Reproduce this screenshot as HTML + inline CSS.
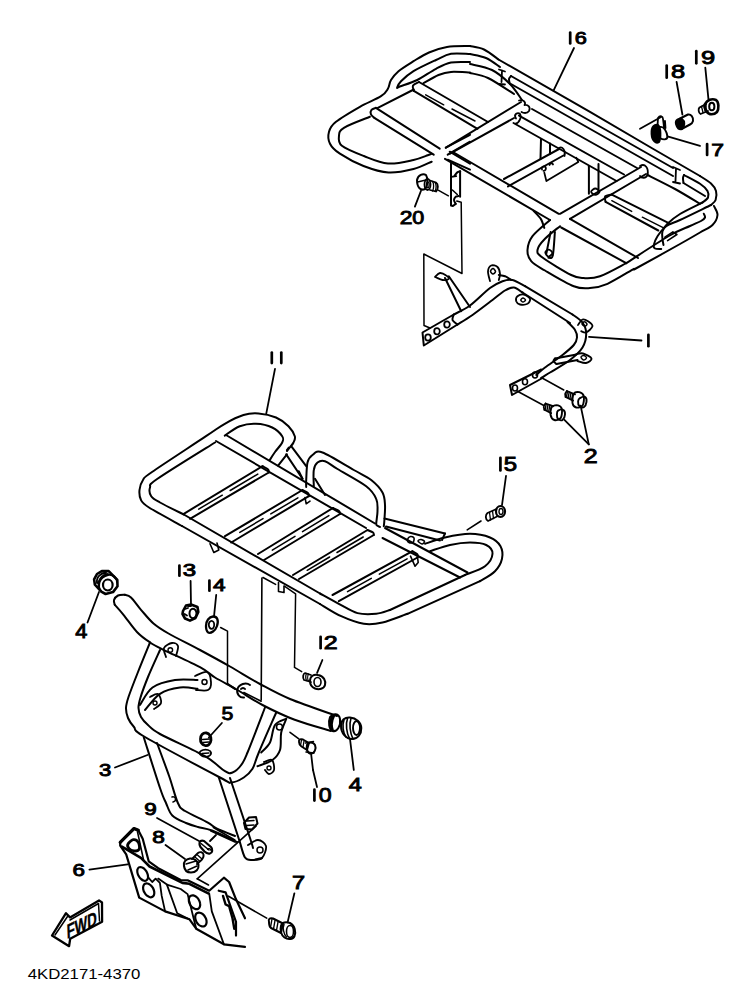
<!DOCTYPE html>
<html><head><meta charset="utf-8"><style>
html,body{margin:0;padding:0;background:#fff;}
body{width:752px;height:995px;overflow:hidden;position:relative;}
svg{position:absolute;left:0;top:0;}
.t{font-family:"Liberation Sans",sans-serif;fill:#000;stroke:#000;stroke-width:0.9px;}
.m{font-family:"Liberation Sans",sans-serif;font-size:13.8px;fill:#000;}
</style></head><body>
<svg width="752" height="995" viewBox="0 0 752 995">
<g fill="none" stroke="#000" stroke-width="2" stroke-linecap="round" stroke-linejoin="round">
<path d="M470 46 C466.2 46.2 453.8 45.9 447 47 C440.2 48.1 434.6 50.1 429 52.5 C423.4 54.9 418.6 58.1 413.5 61.2 C408.4 64.4 402.2 68.1 398.5 71.2 C394.8 74.4 392.8 77.1 391 80 C389.2 82.9 389.6 86 387.9 88.8 C386.2 91.5 385.7 93.2 381 96.2 C376.3 99.3 367.4 102.6 359.9 106.8 C352.4 111.1 341.1 117.6 336 121.8 C330.8 125.9 330 128.1 329 131.8 C328 135.4 328.1 140.1 330 143.7 C331.8 147.4 334.4 150 339.9 153.7 C345.5 157.4 355.4 162.9 363.5 166 C371.6 169.1 380.2 172 388.5 172.5 C396.8 173 406.3 170.8 413.5 169 C420.7 167.2 428.7 162.9 431.7 161.7"/>
<path d="M447.7 159.7 L470 169.7"/>
<path d="M470 54 C466.8 54 456.7 52.8 451 53.8 C445.3 54.8 442.2 57.1 436 60 C429.8 62.9 419.3 67.7 413.5 71.2 C407.7 74.8 403.7 78.5 401 81.2 C398.3 84 397.5 86.6 397.2 87.5 C397 88.4 396.4 87.8 399.8 86.5 C403.1 85.2 411.2 83 417.2 80 C423.3 77 430.4 71.7 436 68.8 C441.6 65.8 445.3 63.6 451 62.5 C456.7 61.4 466.8 62.1 470 62"/>
<path d="M470 72.5 C466.8 72.4 456.2 71.5 451 71.9 C445.8 72.3 443.1 73.1 438.5 75 C433.9 76.9 426 81.8 423.5 83.1"/>
<path d="M413.8 89.5 L377.8 107.8"/>
<path d="M369.9 116.8 C365.5 118.6 349.1 124.6 343.9 127.8 C338.8 130.9 339.3 132.8 339 135.8 C338.6 138.7 337.8 142.4 341.9 145.7 C346.1 149.1 356.2 153 363.9 156 C371.6 159 379.7 162.8 388 163.5 C396.3 164.2 406.9 161.4 413.5 160 C420.1 158.6 424.7 156.4 427.7 155.3 C430.7 154.2 431 154 431.7 153.7"/>
<path d="M375.9 107.8 L439.7 148.7"/>
<path d="M374.3 117.8 L433.7 154.7"/>
<path d="M375.9 107.8 C375.1 108.2 372.3 108.8 371.5 109.8 C370.6 110.9 370.4 112.9 370.9 114.2 C371.3 115.5 373.7 117.2 374.3 117.8"/>
<path d="M419 82 L488 122"/>
<path d="M413.8 90.9 L477.5 128.8"/>
<path d="M419 82 C418 82.6 413.9 84 413 85.5 C412.1 87 413.7 90 413.8 90.9"/>
<path d="M425.7 94.9 L443.7 104.8" stroke-width="1.5"/>
<path d="M452 109 L475 121" stroke-width="1.5"/>
<path d="M445.7 147.7 L470 134.8"/>
<path d="M447.7 154.7 L470 141.7"/>
<path d="M449.7 151.7 L470 163.7"/>
<path d="M470 46 C472.3 46.6 479.2 47.2 484 49.5 C488.8 51.8 496.1 57.8 498.5 59.5"/>
<path d="M498.5 59.5 L590 111.9 L652.5 148.5 L700 176"/>
<path d="M700 176 C701.8 177.2 708.3 181 711 183.5 C713.7 186 715.2 188.2 716 191 C716.8 193.8 716.4 197.7 715.6 200 C714.8 202.3 711.8 204.2 711 205"/>
<path d="M711 205 C705.8 207.5 687.5 216.5 680 220 C672.5 223.5 670 223.5 666.2 226.2 C662.5 229 659.6 233.1 657.5 236.2 C655.4 239.4 654.2 243 653.8 245 C653.3 247 653.8 247.8 655 248.5 C656.2 249.2 660.2 248.9 661.2 249"/>
<path d="M470 54 C472.7 54.7 481 55.8 486 58 C491 60.2 497.7 65.5 500 67"/>
<path d="M499 69.5 L505 71.5 M502 70.5 L501.5 82 M499 84 L505 84.5" stroke-width="1.8"/>
<path d="M510 84 C509.8 83.2 508.8 80.3 509 79 C509.2 77.7 510.7 76.5 511 76"/>
<path d="M511 76 L673 168"/>
<path d="M511 84 L673 176"/>
<path d="M673 167 L680 170 M676 168.5 L675.5 181 M673 182 L680 183.5" stroke-width="1.8"/>
<path d="M683.5 183 C683.4 182.2 682.9 179.3 683 178 C683.1 176.7 683.8 175.5 684 175"/>
<path d="M684 175 C686.7 176.5 696.1 181.1 700 183.8 C703.9 186.4 706.2 188.7 707.5 191 C708.8 193.3 708.8 195.6 708 197.5 C707.2 199.4 703.4 201.7 702.5 202.5"/>
<path d="M702.5 202.5 C698.8 204.4 685.8 210.5 680 214 C674.2 217.5 670.4 220.9 667.5 223.8 C664.6 226.6 663.3 228.7 662.5 231.2 C661.7 233.8 662.3 236.7 662.5 239 C662.7 241.3 663.3 244 663.5 245"/>
<path d="M683.5 183 L705 196"/>
<path d="M470 64 C473.7 65 485.3 66.7 492 70 C498.7 73.3 505 79 510 84 C515 89 520 97.3 522 100"/>
<path d="M470 73 C473 73.8 480.7 74.5 488 78 C495.3 81.5 509.7 91.3 514 94"/>
<path d="M446 147.7 L521 102"/>
<path d="M450 153.7 L514 118"/>
<path d="M519 100.5 C524 99 526 103 524.5 105 C528 104.5 531 107 529 111 C527 114 523 113 521.5 112" stroke-width="1.8"/>
<path d="M532 109 L637 168"/>
<path d="M647.5 175 C652.1 177.3 666.2 184.2 675 189 C683.8 193.8 695.8 201.3 700 203.8"/>
<path d="M640 166 C645 163 649 168 647.5 175 C646 179 641 178 640 176" stroke-width="1.8"/>
<path d="M516 118.5 C513 114 518 112 520 114 C522 117 519 123 516 123.5" stroke-width="1.8"/>
<path d="M519 115.6 L624 174.5"/>
<path d="M513.5 123 L616.5 181"/>
<path d="M504 179 L559 149"/>
<path d="M508 186.4 L563.4 155.5"/>
<path d="M559 148 C562 146 566 150 564.5 156" stroke-width="1.8"/>
<path d="M453.8 152.5 L558.8 213.8"/>
<path d="M445 158.8 L550 220"/>
<path d="M550 220 C547.1 222.7 536.2 231.2 532.5 236.2 C528.8 241.2 527.7 245.8 527.5 250 C527.3 254.2 528.3 257.8 531.2 261.2 C534.2 264.7 537.9 266.3 545 270.5 C552.1 274.7 566.2 283.3 573.8 286.2 C581.2 289.2 584.4 288.5 590 288.1 C595.6 287.7 600.2 287 607.5 283.8 C614.8 280.5 629.6 271.2 634 268.8"/>
<path d="M634 269.5 C641.7 265.2 669 250.2 680 244 C691 237.8 694.6 235.7 700 232.5 C705.4 229.3 709.6 227.9 712.5 225 C715.4 222.1 717.2 218.2 717.5 215 C717.8 211.8 714.6 207.5 714 206"/>
<path d="M560 226.2 C557.5 228.3 548.8 234.8 545 238.8 C541.2 242.7 537.9 246.9 537.5 250 C537.1 253.1 536.9 253.3 542.5 257.5 C548.1 261.7 564.4 271.6 571.2 275 C578.1 278.4 579 277.9 583.8 278.1 C588.5 278.3 592.9 278.8 600 276.2 C607.1 273.8 621.9 265.3 626.2 263.1"/>
<path d="M626.2 263.1 C633.3 258.6 658.1 242.2 668.8 236 C679.4 229.8 684.6 228.5 690 226 C695.4 223.5 698.5 222.4 701 221 C703.5 219.6 704.5 218.7 705 217.5 C705.5 216.3 704 214.4 703.8 213.8"/>
<path d="M570 218.8 L638 258"/>
<path d="M561.2 227.5 L626.2 263.1"/>
<path d="M560 213.8 L641 167"/>
<path d="M570 218.8 L646 174"/>
<path d="M611.8 194.6 L670.3 223.9"/>
<path d="M605.6 201.8 L658.3 230.5"/>
<path d="M605.6 201.8 C605.5 200.9 604.1 197.7 605.1 196.5 C606.1 195.3 610.6 194.9 611.8 194.6"/>
<path d="M611.8 200.7 L631.7 211.4" stroke-width="1.4"/>
<path d="M642.3 217.2 L663.6 227.9" stroke-width="1.4"/>
<path d="M664.9 237.2 L672.9 231.9 L676.9 234.5 L667.6 240.6" stroke-width="1.6"/>
<path d="M451 163.5 L451 205.5 L452.9 206 L455.7 203.9" stroke-width="2"/>
<path d="M455.7 203.9 C455.4 203.2 454 201.2 454 200 C454 198.8 455 197.3 455.7 196.7 C456.4 196 457.9 196.2 458.4 196.1" stroke-width="2"/>
<path d="M460.1 171.3 L460.1 196.7" stroke-width="2"/>
<path d="M454.6 175.7 C455.1 175.1 456.4 173.1 457.3 172.4 C458.2 171.7 459.6 171.5 460.1 171.3" stroke-width="2"/>
<path d="M451.3 176.8 L456.2 176.2" stroke-width="1.8"/>
<path d="M452.4 190 L457.3 194.5" stroke-width="1.6"/>
<path d="M541 139 L540.5 159"/>
<path d="M550 143.5 L550 154"/>
<path d="M542 169.5 C541 167 543.5 165.5 545.5 167 C546.5 168.5 545.5 171 543.5 170.8 M549.5 165 C550 163 552.5 162.5 553 164.5" stroke-width="1.8"/>
<path d="M544.3 172.6 L546.4 181.1 L578.3 161.9 L576.2 157.7" stroke-width="1.8"/>
<path d="M588.9 166.2 L588.9 193.8"/>
<path d="M598.5 164 L598.5 191.7"/>
<path d="M591.1 191.7 C591.1 190.6 593.9 188.5 595.3 188.5 C596.7 188.5 599.6 190.6 599.6 191.7 C599.6 192.8 596.7 194.9 595.3 194.9 C593.9 194.9 591.1 192.8 591.1 191.7Z" stroke-width="1.8"/>
<path d="M550.6 232.1 L546.4 253.4"/>
<path d="M554.9 232.1 C554.5 236 553.8 251.3 552.8 255.5 C551.7 259.8 549.2 257.3 548.5 257.7"/>
<path d="M545.3 252.3 C545.4 251.2 547.8 249.5 548.9 249.6 C550.1 249.7 552.4 251.8 552.3 253 C552.3 254.1 549.7 256.7 548.5 256.6 C547.3 256.5 545.2 253.5 545.3 252.3Z" stroke-width="1.8"/>
<path d="M533.6 210.9 C534.9 212.3 539.3 216.5 541.1 219.4 C542.8 222.2 543.7 226.5 544.3 227.9"/>
<path d="M456.8 201.1 L461.2 202.2 L462 273.5 L423.8 254 L424 325.5 L430 328" stroke-width="1.5"/>
<path d="M453.8 314.5 L422.5 332.5 L423.8 345.5 L457.5 324.5" stroke-width="2"/>
<path d="M425.2 337.5 a2.8 3.2 0 1 0 5.6 0 a2.8 3.2 0 1 0 -5.6 0" stroke-width="1.8"/>
<path d="M434.2 331.25 a2.8 3.2 0 1 0 5.6 0 a2.8 3.2 0 1 0 -5.6 0" stroke-width="1.8"/>
<path d="M444.2 324.5 a2.8 3.2 0 1 0 5.6 0 a2.8 3.2 0 1 0 -5.6 0" stroke-width="1.8"/>
<path d="M453.8 314.5 C456.5 313 464 309.9 470 305.5 C476 301.1 484.6 292 490 288 C495.4 284 498.8 282.6 502.5 281.2 C506.2 279.9 508.8 279.2 512.5 280 C516.2 280.8 522.9 285.2 525 286.2"/>
<path d="M525 286.2 L572.5 314.5"/>
<path d="M572.5 314.5 C574.2 315.8 580.2 319.3 582.5 322.5 C584.8 325.7 586.2 329.6 586.2 333.8 C586.2 337.9 585.2 343.1 582.5 347.5 C579.8 351.9 575.4 355.8 570 360 C564.6 364.2 554.8 369.5 550 372.5 C545.2 375.5 542.7 377.1 541.2 378"/>
<path d="M457.5 324.5 C460 322.9 466.7 319.1 472.5 315 C478.3 310.9 487.1 304.1 492.5 300 C497.9 295.9 501.5 292.6 505 290.5 C508.5 288.4 510.8 287.2 513.8 287.5 C516.7 287.8 521 291.7 522.5 292.5"/>
<path d="M522.5 292.5 L570 323"/>
<path d="M567.5 322 C568.8 323.3 573.4 327.4 575 330 C576.6 332.6 577.2 335 577 337.5 C576.8 340 576.2 342.1 573.8 345 C571.3 347.9 567.3 351.2 562.5 355 C557.7 358.8 549.4 364.2 545 367.5 C540.6 370.8 537.7 373.8 536.2 375"/>
<path d="M453.8 314.5 C453.5 315.4 451.9 318.3 452.5 320 C453.1 321.7 456.7 323.8 457.5 324.5"/>
<path d="M461.2 311.2 L445 278"/>
<path d="M470 307 L448.8 276.2"/>
<path d="M435 277 C435.8 276.3 438.1 273.2 440 273 C441.9 272.8 444.8 274.5 446.2 275.5 C447.7 276.5 449.4 278 448.8 278.8 C448.1 279.5 444.6 280.2 442.5 280 C440.4 279.8 437.3 277.9 436.2 277.5" stroke-width="1.8"/>
<path d="M490 281.2 C489.7 279.6 487.8 273.9 488 271.2 C488.2 268.6 489.7 266.2 491.2 265.5 C492.8 264.8 496 265.6 497.5 267 C499 268.4 499.8 271.6 500 273.8 C500.2 275.9 499 279 498.8 280" stroke-width="1.8"/>
<path d="M490.5 271.2 C490.5 270.3 492.2 268.5 493 268.5 C493.8 268.5 495.5 270.6 495.5 271.5 C495.5 272.4 493.8 274 493 274 C492.2 274 490.5 272.2 490.5 271.2Z" stroke-width="1.6"/>
<path d="M498.8 275 C499.8 275.2 502.9 275.4 505 276.2 C507.1 277.1 510.2 279.4 511.2 280"/>
<path d="M516.2 301.2 C515.8 299.9 516.2 297.4 517.5 296.2 C518.8 295.1 521.7 294.1 523.8 294.5 C525.8 294.9 529.4 297.2 530 298.8 C530.6 300.3 529.2 302.8 527.5 303.8 C525.8 304.7 521.9 304.9 520 304.5 C518.1 304.1 516.7 302.6 516.2 301.2Z" stroke-width="1.8"/>
<path d="M520.8 300 C520.8 299.3 522.2 298 523 298 C523.8 298 525.5 299.3 525.5 300 C525.5 300.7 523.8 302 523 302 C522.2 302 520.8 300.7 520.8 300Z" stroke-width="1.5"/>
<path d="M578 325 C578.8 324.1 580.8 320.1 582.5 319.5 C584.2 318.9 586.3 320.1 588 321.2 C589.7 322.4 592.8 324.4 592.5 326.2 C592.2 328.1 588.1 331.7 586.2 332.5 C584.4 333.3 582.1 331.5 581.2 331.2" stroke-width="1.8"/>
<path d="M582 323.8 C582 323 583.7 321.7 584.5 321.8 C585.3 321.8 587 323.5 587 324.2 C587 325 585.3 326.3 584.5 326.2 C583.7 326.2 582 324.5 582 323.8Z" stroke-width="1.5"/>
<path d="M555 358.5 L576.5 354.5"/>
<path d="M556.5 364 L577.5 360"/>
<path d="M555 358.5 C554.8 358.9 553.2 360.1 553.5 361 C553.8 361.9 556 363.5 556.5 364"/>
<path d="M576.5 354 C577.6 353.9 580.5 352.8 583 353.5 C585.5 354.2 591 356.9 591.5 358.5 C592 360.1 588.3 362.6 586 363 C583.7 363.4 578.9 361.3 577.5 361" stroke-width="1.9"/>
<path d="M581 357 C581.1 356.2 583.1 355.3 584 355.5 C584.9 355.7 586.6 357.2 586.5 358 C586.4 358.8 584.4 360.2 583.5 360 C582.6 359.8 580.9 357.8 581 357Z" stroke-width="1.4"/>
<path d="M541.2 369.5 L510 385 L512 395 L542.5 378" stroke-width="2"/>
<path d="M512.5 388.0 a2.5 3 0 1 0 5 0 a2.5 3 0 1 0 -5 0" stroke-width="1.6"/>
<path d="M522.5 381.75 a2.5 3 0 1 0 5 0 a2.5 3 0 1 0 -5 0" stroke-width="1.6"/>
<path d="M532.5 375.0 a2.5 3 0 1 0 5 0 a2.5 3 0 1 0 -5 0" stroke-width="1.6"/>
<path d="M566.9 391 L575 394.4 M565.6 396.9 L573.1 400.6" stroke-width="1.8"/>
<path d="M566.9 391 C566.6 391.5 565.5 392.8 565.2 393.8 C565 394.7 565.6 396.4 565.6 396.9" stroke-width="1.8"/>
<path d="M567.5 391.5 L566.5 396.5" stroke-width="1.4"/>
<path d="M569.2 392.2 L568.2 397.4" stroke-width="1.4"/>
<path d="M571 393 L570 398.2" stroke-width="1.4"/>
<path d="M572.8 393.8 L571.8 399.1" stroke-width="1.4"/>
<path d="M573.8 393.8 C574.9 391.9 577.7 391.8 579.4 392.2 C581 392.7 583.2 394 583.8 396.2 C584.3 398.5 583.8 403.8 582.5 405.6 C581.2 407.5 577.9 407.9 576.2 407.5 C574.6 407.1 572.9 405.4 572.5 403.1 C572.1 400.8 572.6 395.6 573.8 393.8Z" stroke-width="1.9"/>
<path d="M580 398.1 C581.1 397.4 583.9 396.2 585 396.9 C586.1 397.5 586.7 400.1 586.5 401.9 C586.3 403.6 584.9 406.5 583.8 407.2 C582.6 408 580.3 407.2 579.4 406.2 C578.4 405.2 578 402.6 578.1 401.2 C578.2 399.9 578.9 398.9 580 398.1Z" stroke-width="1.9"/>
<path d="M545.6 403.5 L553.1 406.2 M544.4 409.8 L551.2 413.1" stroke-width="1.8"/>
<path d="M545.6 403.5 C545.3 404 544 405.2 543.8 406.2 C543.5 407.3 544.3 409.2 544.4 409.8" stroke-width="1.8"/>
<path d="M546.2 404 L545.2 409.4" stroke-width="1.4"/>
<path d="M548 404.6 L547 410.2" stroke-width="1.4"/>
<path d="M549.8 405.2 L548.8 411.1" stroke-width="1.4"/>
<path d="M551.5 405.9 L550.5 412" stroke-width="1.4"/>
<path d="M551.9 406.9 C553.1 405.3 556.5 405 558.1 405.4 C559.8 405.8 561.5 407.2 561.9 409.4 C562.3 411.5 561.9 416.4 560.6 418.1 C559.4 419.9 556 420.5 554.4 420 C552.7 419.5 551 417.2 550.6 415 C550.2 412.8 550.6 408.5 551.9 406.9Z" stroke-width="1.9"/>
<path d="M558.1 410.6 C559.2 409.9 562 409.1 563.1 409.8 C564.3 410.4 565.1 412.7 565 414.4 C564.9 416.1 563.6 419.2 562.5 420 C561.4 420.8 559.1 419.9 558.1 419 C557.2 418.1 556.9 415.8 556.9 414.4 C556.9 413 557.1 411.4 558.1 410.6Z" stroke-width="1.9"/>
<path d="M541.2 377.5 L563.8 390" stroke-width="1.5"/>
<path d="M517 391 L543.8 405.5" stroke-width="1.5"/>
<path d="M588.8 444.4 L580.6 405.6" stroke-width="1.8"/>
<path d="M588.8 444.4 L564.4 419.8" stroke-width="1.8"/>
<path d="M287 451 C287.5 450.4 288.7 448.9 289.8 447.5 C290.8 446.1 292.7 444.4 293.5 442.5 C294.3 440.6 295.6 439 294.8 436.2 C293.9 433.5 291.6 429.4 288.5 426.2 C285.4 423.1 281 419.6 276 417.5 C271 415.4 263.9 413.9 258.5 413.5 C253.1 413.1 249.1 413.3 243.5 415 C237.9 416.7 231 420.2 224.8 423.8 C218.5 427.3 218.1 428.2 206 436.2 C193.9 444.3 162.5 464.7 152 472 C141.5 479.3 145.1 477 143 480 C140.9 483 139.8 486.7 139.5 490 C139.2 493.3 139.4 497.1 141 500 C142.6 502.9 142.2 503.2 149 507.5 C155.8 511.8 176.5 522.9 182 526"/>
<path d="M182 526 L320 604"/>
<path d="M320 604 C323.5 606 334 613 341.2 616.2 C348.5 619.5 356.9 622.7 363.8 623.8 C370.6 624.8 375.2 624.2 382.5 622.5 C389.8 620.8 403.3 615.2 407.5 613.8"/>
<path d="M407.5 613.8 L480 581.2"/>
<path d="M480 581.2 C482.5 579.6 491.3 575 495 571.2 C498.7 567.5 501.1 562.9 502 558.8 C502.9 554.6 502.5 549.8 500.5 546.2 C498.5 542.7 495.1 539.6 490 537.5 C484.9 535.4 477.5 533.8 470 533.8 C462.5 533.8 452.5 535.8 445 537.5 C437.5 539.2 428.3 542.7 425 543.8"/>
<path d="M215 442.5 C205.4 448.5 168.3 471.2 157.5 478.8 C146.7 486.2 151 484.6 150 487.5 C149 490.4 149.6 493.8 151.2 496.2 C152.9 498.8 154.6 499.5 160 502.5 C165.4 505.5 179.8 512.5 183.8 514.5"/>
<path d="M183.8 514.5 L320 593.5"/>
<path d="M320 593.5 C323.1 595.2 332.5 600.5 338.8 603.8 C345 607 351.2 611.4 357.5 613.1 C363.8 614.8 370.8 614.3 376.2 613.8 C381.7 613.2 387.7 610.6 390 610"/>
<path d="M390 610 L465 575"/>
<path d="M465 575 C468.3 573.5 480.4 569.8 485 566.2 C489.6 562.7 492.3 557.3 492.5 553.8 C492.7 550.2 490 546.9 486.2 545 C482.5 543.1 476 542.5 470 542.5 C464 542.5 456.7 543.5 450 545 C443.3 546.5 433.3 550.2 430 551.2"/>
<path d="M224.8 435.6 C227.2 434 234.5 428.2 239.8 426.2 C245 424.3 250.6 423.5 256 423.8 C261.4 424 267.9 425.4 272.2 427.5 C276.6 429.6 280.6 433.8 282.2 436.2 C283.9 438.8 283.5 439.9 282.2 442.5 C281 445.1 277.1 449.1 275 452 C272.9 454.9 270.6 458.7 269.8 460"/>
<path d="M286.9 454.4 L278.1 465.6"/>
<path d="M288.8 447.5 L286.9 450"/>
<path d="M291.2 446.2 L306.2 466.2"/>
<path d="M286.2 454.4 L302.5 478.8"/>
<path d="M298.8 471.2 L302.5 478.8"/>
<path d="M306.2 487 C306.2 485.8 306 484.1 306.2 480 C306.5 475.9 306.5 466.7 307.5 462.5 C308.5 458.3 310 456.7 312.5 455 C315 453.3 315.6 450 322.5 452.5 C329.4 455 345.6 465.4 353.8 470 C361.9 474.6 366.5 476.2 371.2 480 C376 483.8 380.2 488.3 382.5 492.5 C384.8 496.7 384.7 500.4 385 505 C385.3 509.6 384.6 516.5 384.4 520 C384.2 523.5 383.9 525.2 383.8 526.2"/>
<path d="M313.8 486.2 C313.8 483.5 313.1 474 313.8 470 C314.4 466 315.6 464 317.5 462.5 C319.4 461 321.7 460.2 325 461.2 C328.3 462.3 330.6 464.8 337.5 469 C344.4 473.2 359.8 481.3 366.2 486.2 C372.7 491.2 374.4 494.6 376.2 498.8 C378.1 502.9 377.5 507.1 377.5 511.2 C377.5 515.4 376.2 521.3 376.2 523.8 C376.3 526.2 377.4 525.5 378 526 C378.6 526.5 379.7 526.8 380 527"/>
<path d="M315 478.8 L325 495"/>
<path d="M226 435 L375 523.5"/>
<path d="M385 528 L467.5 572.5"/>
<path d="M216 441 L366 528"/>
<path d="M382.5 538 L460 577.5"/>
<path d="M384.5 518.5 L445 533.5"/>
<path d="M386 526.5 L440 540.5"/>
<path d="M407.5 539.5 C407.8 538.5 409.4 536.8 410.5 536.5 C411.6 536.2 413.6 537 414 538 C414.4 539 413.8 541.8 413 542.5 C412.2 543.2 409.9 543 409 542.5 C408.1 542 407.2 540.5 407.5 539.5Z" stroke-width="1.6"/>
<path d="M418 541 C417.8 540.2 419.9 539.4 421 539.5 C422.1 539.6 424.3 540.8 424.5 541.5 C424.7 542.2 423.1 544.1 422 544 C420.9 543.9 418.2 541.8 418 541Z" stroke-width="1.5"/>
<path d="M445 533.5 L442 540"/>
<path d="M183.8 513.8 L262.5 466.2"/>
<path d="M190 518.8 L268.8 472.5"/>
<path d="M262.5 466.2 C263.4 466.8 267.1 468.3 268.1 469.4 C269.2 470.4 268.6 472 268.8 472.5"/>
<path d="M198.7 509.2 L222.3 495.2" stroke-width="1.5"/>
<path d="M230.2 490.5 L257.8 474.1" stroke-width="1.5"/>
<path d="M225 536.2 L302.5 490"/>
<path d="M231.2 542.5 L308.8 496.2"/>
<path d="M302.5 490 C303.4 490.5 307.1 492.1 308.1 493.1 C309.2 494.2 308.6 495.7 308.8 496.2"/>
<path d="M239.8 532.4 L263 518.6" stroke-width="1.5"/>
<path d="M270.8 513.9 L297.9 497.8" stroke-width="1.5"/>
<path d="M258 554 L333 508"/>
<path d="M264 560 L340 514"/>
<path d="M333 508 C334 508.5 337.8 510 339 511 C340.2 512 339.8 513.5 340 514"/>
<path d="M272.3 550.1 L295 536.3" stroke-width="1.5"/>
<path d="M302.5 531.7 L328.9 515.6" stroke-width="1.5"/>
<path d="M293 575 L367.5 530"/>
<path d="M299 579 L373.8 535"/>
<path d="M367.5 530 C368.4 530.4 372.1 531.7 373.1 532.5 C374.2 533.3 373.6 534.6 373.8 535"/>
<path d="M307.2 570.3 L329.6 557" stroke-width="1.5"/>
<path d="M337 552.5 L363.2 537" stroke-width="1.5"/>
<path d="M332.5 595 L412.5 551.2"/>
<path d="M338.8 601.2 L417.5 557.5"/>
<path d="M412.5 551.2 C413.3 551.8 416.7 553.3 417.5 554.4 C418.3 555.4 417.5 557 417.5 557.5"/>
<path d="M347.5 591.6 L371.3 578.4" stroke-width="1.5"/>
<path d="M379.3 574.1 L407.1 558.8" stroke-width="1.5"/>
<path d="M210 543.8 L213.8 552.5 L218.8 550 L217 543" stroke-width="1.6"/>
<path d="M305 497.5 L306.2 503.8 L310 501.2" stroke-width="1.6"/>
<path d="M410.5 556.2 L415 566.2 L418.2 562.5 L417.5 557" stroke-width="1.6"/>
<path d="M124.8 594.8 C125.8 595.2 128.3 595 131 597.5 C133.7 600 137.2 605.4 141 609.8 C144.8 614.1 148.9 619.5 153.5 623.5 C158.1 627.5 160.8 629.1 168.5 633.5 C176.2 637.9 189.8 644.5 200 650 C210.2 655.5 220 660.8 230 666.5 C240 672.2 250 678.6 260 684 C270 689.4 277.2 693.7 290 699 C302.8 704.3 329.2 713.2 337 716"/>
<path d="M114.8 604.8 C116.2 606.4 119.8 610.2 123.5 614.8 C127.2 619.3 132.9 627.7 137.2 632.2 C141.6 636.8 145.4 639.3 149.8 642.2 C154.1 645.2 155.1 645.6 163.5 649.8 C171.9 653.9 191.4 662.6 200 667.2 C208.6 671.9 208.8 673.7 215 677.5 C221.2 681.3 229.6 685.4 237.5 690 C245.4 694.6 253.1 700.1 262.5 705 C271.9 709.9 282.6 715.2 294 719.5 C305.4 723.8 324.8 729.1 331 731"/>
<path d="M124.8 594.8 C123.6 594.9 119.8 594.6 118 595.5 C116.2 596.4 114.5 598.5 114 600 C113.5 601.5 114.6 604 114.8 604.8"/>
<path d="M330 717 C333 713 339 713 340 719 C341 726 337 732 333 731 C329 730 328 722 330 717Z" stroke-width="2"/>
<path d="M331.5 717 C330 722 330.5 728 333 731 C331 726 331.5 721 334 716Z" stroke-width="2.2" fill="#000"/>
<path d="M150 642.5 C148 647.4 141.6 662.9 138 672 C134.4 681.1 130.5 691 128.5 697 C126.5 703 126.1 704.5 126 708 C125.9 711.5 126.7 714.8 128 718 C129.3 721.2 131.2 723.8 134 727 C136.8 730.2 130.7 728.6 145 737 C159.3 745.4 205.6 769.9 220 777.5 C234.4 785.1 227.3 782.5 231.2 782.5 C235.2 782.5 240.2 779.8 243.8 777.5 C247.3 775.2 250 772.9 252.5 768.8 C255 764.6 254.8 761.9 258.8 752.5 C262.7 743.1 273.3 719.2 276.2 712.5"/>
<path d="M160 650 C158 654.5 151.2 669.1 148 677 C144.8 684.9 142.1 692.3 140.5 697.5 C138.9 702.7 138.4 704.8 138.5 708 C138.6 711.2 139.4 714.2 141 717 C142.6 719.8 144.8 722.2 148 725 C151.2 727.8 150.5 728.8 160 734 C169.5 739.2 194.2 750 205 756.2 C215.8 762.5 220.4 768.5 225 771.2 C229.6 774 229.8 773.5 232.5 772.5 C235.2 771.5 238.8 768.3 241.2 765 C243.8 761.7 243.5 762.1 247.5 752.5 C251.5 742.9 262.1 715 265 707.5"/>
<path d="M143.8 737.5 C146.5 745.9 156.3 777.1 160 788 C163.7 798.9 163.9 798.4 166 803 C168.1 807.6 169 812.2 172.3 815.5 C175.6 818.8 181.7 821.1 186 823 C190.3 824.9 193.6 825.8 197.9 827 C202.2 828.2 205.5 828 212 830.5 C218.5 833 232.8 840.1 237 842"/>
<path d="M157 743 C159 748.5 165.6 766 169.1 776 C172.6 786 175.2 797.2 177.9 803 C180.6 808.8 180.2 807.8 185.1 811 C190 814.2 202.1 819.3 207.4 822.3 C212.7 825.2 212.4 826.4 217 828.7 C221.6 831 232 834.8 235 836"/>
<path d="M172 797 C176 796 177 801 173 802" stroke-width="1.5"/>
<path d="M218.8 777.5 L240 842.5"/>
<path d="M230 778 C233.3 788 246.2 826.3 250 838 C253.8 849.7 252.5 846.3 253 848"/>
<path d="M240 842.5 C240.8 845 243 854.6 245 857.5 C247 860.4 249.2 859.9 252 860 C254.8 860.1 260.3 858.3 262 858"/>
<path d="M248 845 C249.7 844.2 255 839.8 258 840 C261 840.2 265.3 843 266 846 C266.7 849 264.3 855.7 262 858 C259.7 860.3 253.7 859.7 252 860" stroke-width="1.8"/>
<path d="M257 850 a3 3 0 1 0 6 0 a3 3 0 1 0 -6 0" stroke-width="1.5"/>
<path d="M140 705 C142.1 702.1 146.7 691.7 152.5 687.5 C158.3 683.3 167.5 681.2 175 680 C182.5 678.8 193.8 680 197.5 680"/>
<path d="M145 710 C147.5 707.3 154.2 697.5 160 693.8 C165.8 690 173.8 688.3 180 687.5 C186.2 686.7 194.6 688.5 197.5 688.8"/>
<path d="M195 676 C197 675.3 204.3 671 207 672 C209.7 673 210.8 679 211 682 C211.2 685 210.5 688.7 208 690 C205.5 691.3 198 690 196 690" stroke-width="1.8"/>
<path d="M202 682 a2.5 2.5 0 1 0 5 0 a2.5 2.5 0 1 0 -5 0" stroke-width="1.5"/>
<path d="M150 697 C151.3 696.5 156.2 693 158 694 C159.8 695 161.7 700.5 161 703 C160.3 705.5 155.2 708 154 709" stroke-width="1.8"/>
<path d="M153 703 a2 2 0 1 0 4 0 a2 2 0 1 0 -4 0" stroke-width="1.4"/>
<path d="M166 657 C165.7 655.5 163 650.3 164 648 C165 645.7 169.7 643.3 172 643 C174.3 642.7 177.3 643.8 178 646 C178.7 648.2 176.3 654.3 176 656" stroke-width="1.8"/>
<path d="M168 650 a2.3 2.3 0 1 0 4.6 0 a2.3 2.3 0 1 0 -4.6 0" stroke-width="1.4"/>
<path d="M286.2 718.8 C284.4 719.8 277.7 721 275 725 C272.3 729 272.3 737.9 270 742.5 C267.7 747.1 262.7 750.8 261.2 752.5"/>
<path d="M286.2 719 C285.4 721.2 282.3 727.3 281.2 732.5 C280.2 737.7 281.5 745.4 280 750 C278.5 754.6 276.2 757.3 272.5 760 C268.8 762.7 260 765.2 257.5 766.2"/>
<path d="M276.5 727 a3 3 0 1 0 6 0 a3 3 0 1 0 -6 0" stroke-width="1.6"/>
<path d="M264 762 C265.3 761.7 270.3 758.7 272 760 C273.7 761.3 274.5 767.7 274 770 C273.5 772.3 270.5 774 269 774 C267.5 774 265.7 770.7 265 770" stroke-width="1.8"/>
<path d="M267 768 a2 2 0 1 0 4 0 a2 2 0 1 0 -4 0" stroke-width="1.4"/>
<path d="M570.2 32.6 L570.2 43.4" stroke-width="2.7"/>
<path d="M666.7 65.6 L666.7 77.7" stroke-width="2.7"/>
<path d="M696.3 51.2 L696.3 63.3" stroke-width="2.7"/>
<path d="M707.1 144.1 L707.1 155.0" stroke-width="2.7"/>
<path d="M648.4 334.85 L648.4 346.15" stroke-width="2.7"/>
<path d="M271.8 352.6 L271.8 363.09999999999997" stroke-width="2.7"/>
<path d="M281.3 352.6 L281.3 363.09999999999997" stroke-width="2.7"/>
<path d="M500.4 457.85 L500.4 470.4" stroke-width="2.7"/>
<path d="M179.4 565.6 L179.4 575.65" stroke-width="2.7"/>
<path d="M209.4 580.6 L209.4 590.65" stroke-width="2.7"/>
<path d="M320.6 636.85 L320.6 648.15" stroke-width="2.7"/>
<path d="M314.4 789.7 L314.4 800.6" stroke-width="2.7"/>
<path d="M651.6 134 C651 126 655 124 658 125 C661 127 661 138 659 142 C656 144 652 141 651.6 134Z" stroke-width="2" fill="#000"/>
<path d="M660 127 C664 126 667 132 667.5 137 C667 140 663 140 660 138" stroke-width="1.9"/>
<path d="M657.5 126 L658 118 C660 115 663 116 663 119 L664 127 M665 121 L665.5 128" stroke-width="1.8"/>
<path d="M640 128.7 L661.5 116.8" stroke-width="1.8"/>
<path d="M667.5 136.3 L700 145.9" stroke-width="1.8"/>
<path d="M676 124 C675 120 679 118 682 119 C685 121 685 126 682 129 C679 130 677 128 676 124Z" stroke-width="2" fill="#000"/>
<path d="M680 118.5 L688 114.5 C691 114 693.5 117 693 121 C692.5 123 691 124 690 124.5 L682.5 128.5" stroke-width="2"/>
<path d="M676.6 82 L682.4 114.5" stroke-width="1.8"/>
<path d="M705 104 C707 100 712 98 716 100 C719 102 719 109 717 112 C714 115 709 115 707 112 C705 110 704 107 705 104Z" stroke-width="2.6"/>
<path d="M709.2 106.5 a2.6 3.8 0 1 0 5.2 0 a2.6 3.8 0 1 0 -5.2 0" stroke-width="2"/>
<path d="M706.5 102.5 C705 106 706 111 708.5 113" stroke-width="1.6"/>
<path d="M706 104 L699.5 107.5 C698 109 698.5 113 700.5 114 L708 111" stroke-width="1.8"/>
<path d="M701.5 106.5 L703 112.5 M704 105.5 L705.5 111.5" stroke-width="1.3"/>
<path d="M705.3 67.7 L708.5 99.6" stroke-width="1.8"/>
<path d="M417 180 C418 175 423 173 426 175 C428 178 428 186 425 189 C421 191 417 188 417 180Z" stroke-width="2"/>
<path d="M417.5 182 L426 180" stroke-width="1.5"/>
<path d="M424.5 184.5 a3 5.5 0 1 0 6 0 a3 5.5 0 1 0 -6 0" stroke-width="1.8"/>
<path d="M426.5 184.8 a1.3 3 0 1 0 2.6 0 a1.3 3 0 1 0 -2.6 0" stroke-width="1.3"/>
<path d="M430 180.5 L436 182.5 C438.5 184 438.5 189 436 191.5 L430 190" stroke-width="1.8"/>
<path d="M432.5 181.5 C434 183 434 189 432.5 191 M435 182.5 C436.5 184 436.5 189 435 191.3" stroke-width="1.3"/>
<path d="M421 190.7 L414.9 206.6" stroke-width="1.8"/>
<path d="M438.6 190.3 L448.4 195.8" stroke-width="1.5"/>
<path d="M496.0 511.5 a4.5 5.5 0 1 0 9.0 0 a4.5 5.5 0 1 0 -9.0 0" stroke-width="2.2"/>
<path d="M499.0 511.5 a2 3 0 1 0 4 0 a2 3 0 1 0 -4 0" stroke-width="1.4"/>
<path d="M496.5 509 L487.5 513 C485 515 485.5 520 488 521 L497 516.5" stroke-width="1.8"/>
<path d="M489.5 512.5 L490.5 520 M492.5 511 L493.5 518.5" stroke-width="1.3"/>
<path d="M506 476 L502 505" stroke-width="1.8"/>
<path d="M467.2 529.8 L481 521" stroke-width="1.6"/>
<path d="M183 611 L186 605.5 L191 604.5 L197.5 607 L198.3 612 L195.5 618 L190 620.6 L185 618.5 L182.5 614 L183 611" stroke-width="2.6"/>
<path d="M189.5 613.5 a3.5 4.8 0 1 0 7.0 0 a3.5 4.8 0 1 0 -7.0 0" stroke-width="2"/>
<path d="M185 609 L188 608 M184.5 614 L187 615.5 M188 606 L191 606" stroke-width="1.8"/>
<path d="M190.6 581 L191 605" stroke-width="1.8"/>
<path d="M206 626 C206 623.9 206.8 621.1 208 619.5 C209.2 617.9 211.4 616.6 213 616.5 C214.6 616.4 216.6 617.4 217.3 619 C218 620.6 217.7 623.9 217 626 C216.3 628.1 214.5 630.5 213 631.5 C211.5 632.5 209.2 633.2 208 632.3 C206.8 631.4 206 628.1 206 626Z" stroke-width="2.3"/>
<path d="M208.8 624.8 a2.7 4 0 1 0 5.4 0 a2.7 4 0 1 0 -5.4 0" stroke-width="1.8"/>
<path d="M216.2 595 L214 616.5" stroke-width="1.8"/>
<path d="M220.6 627.5 L227.5 631.2 L227.5 683.8" stroke-width="1.5"/>
<path d="M94.1 579.4 L97 574 L101.8 571.1 L108.7 571.1 L117.3 579.9 L117.5 586.3 L113 592.1 L105.6 594 L101.3 591.6 L94.9 584.7 L94.1 579.4" stroke-width="2.6"/>
<path d="M103.0 585.0 a4.8 5.5 0 1 0 9.6 0 a4.8 5.5 0 1 0 -9.6 0" stroke-width="2.2"/>
<path d="M101 591 C97 586 99 577 108 575 C113 574 117 578 117 582" stroke-width="2"/>
<path d="M97 583 C96 577 101 573 106 572.5 M99 588 C97 581 101 575 108 574" stroke-width="1.8"/>
<path d="M87.5 622.5 L99 592" stroke-width="1.8"/>
<path d="M341 726 C341 720 345 717 350 717.5 C356 718 361 722 361.3 728 C361.5 734 358 739 352 739 C346 739 341 733 341 726Z" stroke-width="2"/>
<path d="M344 720 C342 725 343 733 346 737 M347.5 718.5 C345.5 724 346.5 733 349.5 738.5 M351 718.2 C349 724 350 733 353 739" stroke-width="1.6"/>
<path d="M353.0 728.0 a3.5 7 0 1 0 7.0 0 a3.5 7 0 1 0 -7.0 0" stroke-width="1.9"/>
<path d="M350 739 L353.8 770" stroke-width="1.8"/>
<path d="M311 675 L305 673 C303 673.5 302.5 678 304 680 L311 682" stroke-width="1.8"/>
<path d="M306.5 673.5 C305.5 675 305.5 679 306.5 680.5 M308.5 674 C307.5 676 307.5 679.5 308.5 681" stroke-width="1.3"/>
<path d="M310 681 C310 676 314 674 318 675 C324 676 326 681 325 685 C324 689 319 690 315 688.5 C311 687 310 684 310 681Z" stroke-width="2"/>
<path d="M314.0 682.0 a3.5 4.5 0 1 0 7.0 0 a3.5 4.5 0 1 0 -7.0 0" stroke-width="1.6"/>
<path d="M317.1 672.8 L322.4 660" stroke-width="1.8"/>
<path d="M284.4 586.2 L295.6 593.8 L294.5 667.4 L301.7 671.7" stroke-width="1.5"/>
<path d="M299 742 C298.5 739.5 300.5 738.5 303 739.5 L309 743 L307 750 L301.5 746.5 C300 745.5 299 744 299 742Z" stroke-width="1.9"/>
<path d="M301.5 740 L300.5 745.5 M304 741 L303 747" stroke-width="1.3"/>
<path d="M307 745 C308.5 741.5 313 741.5 315 745 C316.5 748.5 314.5 753.5 311 753.5 C307.5 753.5 306 749 307 745Z" stroke-width="2"/>
<path d="M305.5 743 L313.5 741.5 M306 752 L314 753" stroke-width="1.5"/>
<path d="M290 732.3 L298.5 738.7" stroke-width="1.6"/>
<path d="M311 753 L313 770" stroke-width="1.8"/>
<path d="M313 770 L317 787" stroke-width="1.8"/>
<path d="M200.5 739 C200.6 737.6 201 735.5 202 734.5 C203 733.5 205.2 732.8 206.5 733 C207.8 733.2 209.2 734.3 210 735.5 C210.8 736.7 211.2 738.5 211 740 C210.8 741.5 210 743.6 209 744.5 C208 745.4 206.2 745.8 205 745.5 C203.8 745.2 202.2 744.1 201.5 743 C200.8 741.9 200.4 740.4 200.5 739Z" stroke-width="2.8"/>
<path d="M202.5 739.5 L209.5 739 M203 742.5 L208.5 742" stroke-width="1.6"/>
<path d="M199.5 753 C199.5 751.9 201.6 750.5 203 750 C204.4 749.5 206.7 749.6 208 750 C209.3 750.4 210.8 751.5 211 752.5 C211.2 753.5 210.3 755.3 209 756 C207.7 756.7 204.6 757 203 756.5 C201.4 756 199.5 754.1 199.5 753Z" stroke-width="1.8"/>
<path d="M202 753.5 L209 753" stroke-width="1.3"/>
<path d="M208.8 737.5 L221.9 723" stroke-width="1.8"/>
<path d="M184 866 C183 862 186 859 190 858.5 C194 858 198 861 198.5 865 C199 869 196 872.5 191 872.5 C187 872.5 184.5 870 184 866Z" stroke-width="2.1"/>
<path d="M186 864 L196 861 M188 870 L197 866" stroke-width="1.4"/>
<path d="M192 859 L198 853 C200 851.5 203 852 203.5 854.5 C204 857 203 858.5 201.5 860 L197 864" stroke-width="1.9"/>
<path d="M195 857 L199.5 861 M197.5 855 L202 859" stroke-width="1.3"/>
<path d="M165.5 845 L185 859" stroke-width="1.8"/>
<path d="M199.5 844 C199 841 201.5 840 204 841 L211 847 C213 849 212.5 853 210 853.5 C208 854 206 853 204.5 851.5 L200.5 847 C200 846 199.5 845 199.5 844Z" stroke-width="2.2"/>
<path d="M201 843.5 L209 850" stroke-width="1.6"/>
<path d="M207.5 849.5 C208.5 848 210.5 848.5 211 850.5" stroke-width="1.2" fill="none"/>
<path d="M157 818 L199 841" stroke-width="1.7"/>
<path d="M211 831 L235 842 M213.5 827.5 L234.75 840" stroke-width="1.8"/>
<path d="M210 841 L216 835" stroke-width="1.8"/>
<path d="M197.2 878.8 L256 826.2" stroke-width="1.6"/>
<path d="M197.2 878.8 L208.5 885" stroke-width="1.6"/>
<path d="M244 823 L249 817.5 L256 817 L257.5 823.5 L252 829.5 L245.5 829 L244 823" stroke-width="2"/>
<path d="M247 821 L254 820.5 M246.5 825.5 L254 825" stroke-width="1.4"/>
<path d="M269 922 C268 919 270 917.5 273 918.5 L283 923.5 L281 933 L271 928 C269.5 927 269 924.5 269 922Z" stroke-width="2"/>
<path d="M272 919 L270.5 927.5 M275 920.5 L273.5 929 M278 922 L276.5 930.5" stroke-width="1.4"/>
<path d="M281 926 C282 922 286 921.5 290 923 C295 925.5 296 932 294.5 936 C293 939.5 288 940 284.5 937.5 C281 935 280 930 281 926Z" stroke-width="2.1"/>
<path d="M284 924.5 C282.5 928 283.5 934 286.5 937" stroke-width="1.4"/>
<path d="M286.5 931.5 a3.5 6 0 1 0 7.0 0 a3.5 6 0 1 0 -7.0 0" stroke-width="1.6"/>
<path d="M294.4 893.3 L287.6 922.4" stroke-width="1.8"/>
<path d="M228.5 896.2 L266.7 918.1" stroke-width="1.6"/>
<path d="M261.9 578 L261.2 700" stroke-width="1.6"/>
<path d="M250 685 C246 682 239 684 237.5 689 C236 694 240 698 244 697.5 M241 689 C242 687.5 244 687.5 245 689" stroke-width="2"/>
<path d="M243.8 692.5 L261.2 701.2" stroke-width="1.6"/>
<path d="M227.5 683.8 L235 688.8" stroke-width="2.2"/>
<path d="M263 577.5 L275.6 584.4 M278.5 582.5 L278.5 591.5 L284 592.5 L284 586" stroke-width="1.6"/>
<path d="M120.2 842.3 L134 828.5 L138.3 830.2" stroke-width="3.2"/>
<path d="M120.2 842.3 L134 828.5 L138.3 830.2 L142.7 838.8 L148.7 861.3 L158.2 868.2 L180.7 880 L187.6 880.3 L209.2 890.7 L223.9 877.7 L229.1 882 L236 899.3 L245 918.3" stroke-width="2.2"/>
<path d="M120.2 842.3 L120.2 845.7 L126.2 854.4 L139.2 897.6 L165.1 911.4 L189.3 919.2 L196.2 928.7 L223.9 944.3 L245 946.9" stroke-width="2.2"/>
<path d="M121.9 846.6 L140.9 857.8 L149.6 866.5 L182.4 882.9 L189.3 883.8 L208.3 893.3" stroke-width="2.6"/>
<path d="M137.5 831.9 L143.5 859.6" stroke-width="1.6"/>
<path d="M128 844 C128.7 842.6 131.4 840 133.2 839.7 C134.9 839.4 137.3 840.7 138.3 842.3 C139.3 843.9 139.9 847.8 139.2 849.2 C138.5 850.6 135.7 851.1 134 850.9 C132.3 850.8 129.8 849.5 128.8 848.3 C127.8 847.2 127.2 845.5 128 844Z" stroke-width="2.8"/>
<path d="M146.4 880.4 C145.8 880.8 144.8 880.9 144 880.7 C143.1 880.5 142 879.9 141.2 879.1 C140.3 878.4 139.4 877.3 138.8 876.2 C138.1 875.1 137.6 873.7 137.4 872.6 C137.2 871.5 137.2 870.3 137.5 869.4 C137.7 868.6 138.3 867.8 138.9 867.4 C139.6 867 140.5 867 141.4 867.2 C142.2 867.4 143.3 868 144.2 868.7 C145 869.5 145.9 870.6 146.6 871.7 C147.2 872.8 147.7 874.1 147.9 875.2 C148.1 876.3 148.1 877.6 147.9 878.4 C147.6 879.3 147.1 880 146.4 880.4Z" stroke-width="2.2"/>
<path d="M152.5 896.8 C151.8 897.2 150.8 897.4 149.9 897.2 C149 897 147.9 896.4 147 895.7 C146.1 894.9 145.2 893.8 144.6 892.7 C143.9 891.7 143.4 890.3 143.2 889.2 C143 888 143.1 886.8 143.4 885.9 C143.7 885 144.3 884.2 145 883.8 C145.7 883.4 146.6 883.3 147.5 883.5 C148.5 883.7 149.5 884.3 150.4 885 C151.3 885.8 152.2 886.9 152.9 887.9 C153.5 889 154 890.4 154.2 891.5 C154.4 892.6 154.3 893.9 154 894.8 C153.7 895.7 153.2 896.4 152.5 896.8Z" stroke-width="2.2"/>
<path d="M198.3 908.8 C197.5 909.2 196.5 909.3 195.6 909.1 C194.7 909 193.5 908.4 192.6 907.7 C191.7 907 190.8 905.9 190.2 904.8 C189.6 903.7 189.1 902.3 188.9 901.2 C188.7 900 188.8 898.8 189.1 897.9 C189.4 897 190 896.2 190.8 895.8 C191.5 895.4 192.5 895.2 193.4 895.4 C194.4 895.6 195.5 896.1 196.4 896.9 C197.3 897.6 198.2 898.7 198.8 899.8 C199.5 900.9 200 902.2 200.1 903.4 C200.3 904.5 200.2 905.7 199.9 906.6 C199.6 907.5 199 908.3 198.3 908.8Z" stroke-width="2.2"/>
<path d="M204.7 926.1 C203.9 926.5 202.9 926.6 202 926.4 C201.1 926.2 199.9 925.7 199 925 C198.1 924.2 197.2 923.1 196.6 922.1 C196 921 195.5 919.6 195.3 918.5 C195.1 917.3 195.2 916.1 195.5 915.2 C195.8 914.3 196.4 913.5 197.2 913.1 C197.9 912.6 198.9 912.5 199.8 912.7 C200.8 912.9 201.9 913.4 202.8 914.1 C203.7 914.9 204.6 916 205.2 917.1 C205.9 918.1 206.4 919.5 206.5 920.6 C206.7 921.8 206.6 923 206.3 923.9 C206 924.8 205.4 925.6 204.7 926.1Z" stroke-width="2.2"/>
<path d="M147.8 876.9 L152.2 882 L155.6 878.6 L159.9 882.9 L161.7 895.9 L165.1 911.4" stroke-width="1.8"/>
<path d="M158.2 878.6 L166.9 884.6 L177.2 913.2 L189.3 919.2" stroke-width="1.8"/>
<path d="M166.9 884.6 L180.7 889 L187.6 894.1 L196.2 928.7" stroke-width="1.8"/>
<path d="M209.2 893.3 L211.8 911.4 L223.9 944.3" stroke-width="1.8"/>
<path d="M218.7 890.7 L225.6 892.4 L236 921.8 L236 935.6" stroke-width="2.2"/>
<path d="M223 895.9 L225.6 904.5 L229.1 906.2 L232.5 918.3 L234.3 928.7" stroke-width="2.4"/>
<path d="M89.4 869.6 L127.7 864.3" stroke-width="1.8"/>
<path d="M52 935.5 L66 913.2 L70 917.4 L99 900.4 L102 902.5 L102.1 921.7 L70.2 938.7 L69.1 946.2 Z" stroke-width="2.3"/>
<path d="M55 935 L67.5 916.5 M70 920 L98.5 903.5 L99.5 921" stroke-width="1.5"/>
<path d="M574 48 L553.5 90.6" stroke-width="1.8"/>
<path d="M589 336.8 L641.5 340.5" stroke-width="1.8"/>
<path d="M275 368.8 L266.2 413.8" stroke-width="1.8"/>
<path d="M115 767.5 L147.5 755" stroke-width="1.8"/>
</g>
<text class="t" transform="translate(580.70,44.00) scale(1.268,1)" x="0" y="0" text-anchor="middle" style="font-size:17.14px">6</text>
<text class="t" transform="translate(678.15,78.30) scale(1.339,1)" x="0" y="0" text-anchor="middle" style="font-size:19.00px">8</text>
<text class="t" transform="translate(707.95,63.90) scale(1.339,1)" x="0" y="0" text-anchor="middle" style="font-size:19.00px">9</text>
<text class="t" transform="translate(717.55,155.60) scale(1.324,1)" x="0" y="0" text-anchor="middle" style="font-size:17.29px">7</text>
<text class="t" transform="translate(406.05,224.20) scale(1.282,1)" x="0" y="0" text-anchor="middle" style="font-size:17.86px">2</text>
<text class="t" transform="translate(418.15,224.20) scale(1.202,1)" x="0" y="0" text-anchor="middle" style="font-size:17.86px">0</text>
<text class="t" transform="translate(590.62,462.50) scale(1.273,1)" x="0" y="0" text-anchor="middle" style="font-size:19.64px">2</text>
<text class="t" transform="translate(510.38,471.00) scale(1.219,1)" x="0" y="0" text-anchor="middle" style="font-size:19.64px">5</text>
<text class="t" transform="translate(189.38,576.25) scale(1.489,1)" x="0" y="0" text-anchor="middle" style="font-size:16.07px">3</text>
<text class="t" transform="translate(219.38,591.25) scale(1.400,1)" x="0" y="0" text-anchor="middle" style="font-size:16.07px">4</text>
<text class="t" transform="translate(81.35,637.70) scale(1.122,1)" x="0" y="0" text-anchor="middle" style="font-size:19.43px">4</text>
<text class="t" transform="translate(330.62,648.75) scale(1.400,1)" x="0" y="0" text-anchor="middle" style="font-size:17.86px">2</text>
<text class="t" transform="translate(227.50,720.00) scale(1.191,1)" x="0" y="0" text-anchor="middle" style="font-size:17.86px">5</text>
<text class="t" transform="translate(105.10,775.50) scale(1.302,1)" x="0" y="0" text-anchor="middle" style="font-size:17.00px">3</text>
<text class="t" transform="translate(325.15,802.10) scale(1.165,1)" x="0" y="0" text-anchor="middle" style="font-size:19.86px">0</text>
<text class="t" transform="translate(355.15,790.50) scale(1.300,1)" x="0" y="0" text-anchor="middle" style="font-size:18.00px">4</text>
<text class="t" transform="translate(150.55,814.60) scale(1.412,1)" x="0" y="0" text-anchor="middle" style="font-size:15.86px">9</text>
<text class="t" transform="translate(158.50,843.30) scale(1.426,1)" x="0" y="0" text-anchor="middle" style="font-size:15.86px">8</text>
<text class="t" transform="translate(78.75,876.00) scale(1.317,1)" x="0" y="0" text-anchor="middle" style="font-size:17.00px">6</text>
<text class="t" transform="translate(298.50,889.00) scale(1.288,1)" x="0" y="0" text-anchor="middle" style="font-size:18.29px">7</text>

<text class="m" x="27.7" y="979" textLength="112.7" lengthAdjust="spacingAndGlyphs">4KD2171-4370</text>
<text x="0" y="0" transform="matrix(1,-0.48,0.04,1,67,939)" style="font-family:'Liberation Sans',sans-serif;font-size:20px;font-weight:bold;stroke:#000;stroke-width:0.4" textLength="30" lengthAdjust="spacingAndGlyphs">FWD</text>
</svg></body></html>
